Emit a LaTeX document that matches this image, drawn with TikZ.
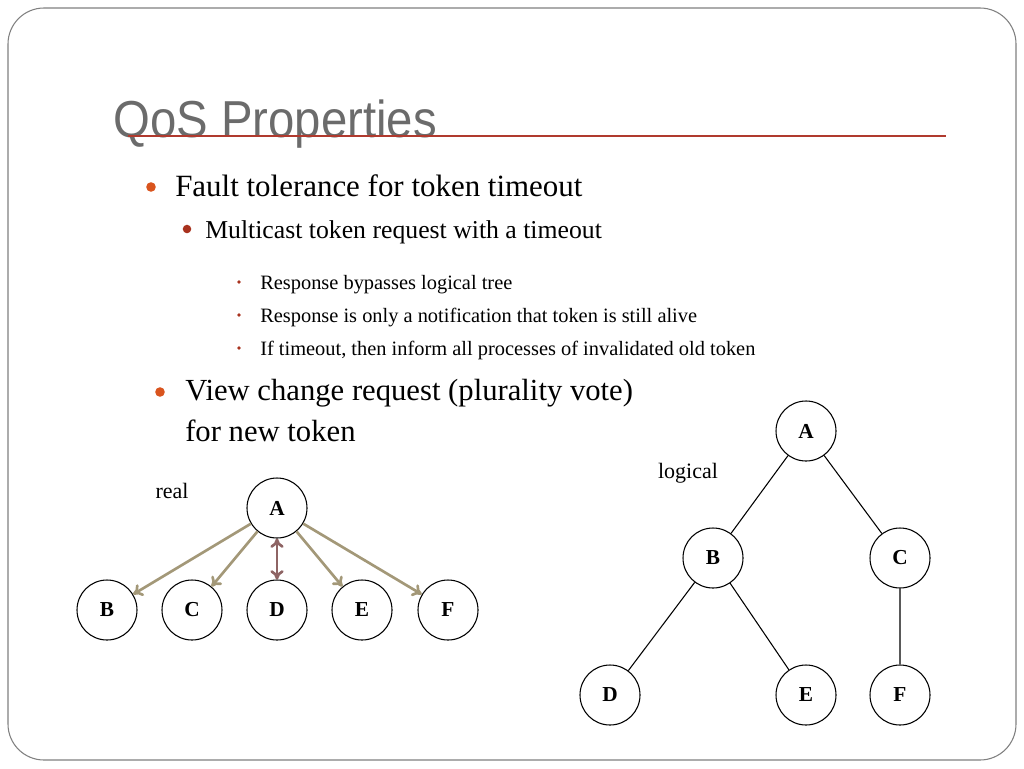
\documentclass[tikz,border=0pt]{standalone}
\usepackage{fontspec}
\setmainfont{Liberation Serif}
\newfontfamily\titlefont[FakeStretch=0.91]{Liberation Sans}
\definecolor{titlegrey}{HTML}{6B6B6B}
\definecolor{rulered}{HTML}{B03A2E}
\definecolor{dotorange}{HTML}{D9541E}
\definecolor{dotred}{HTML}{A8321E}
\definecolor{arrowtan}{HTML}{A39878}
\definecolor{arrowmauve}{HTML}{8E6464}
\tikzset{
    proc/.style={circle, draw, thick, minimum size=45pt, inner sep=0pt,
        font=\fontsize{16}{18}\selectfont\bfseries},
    send/.style={->, arrowtan, line width=2pt, >={To[length=7pt,width=10pt]}},
}
\usetikzlibrary{arrows.meta}
\begin{document}
\begin{tikzpicture}[x=0.75pt, y=-0.75pt]
    \useasboundingbox (0,0) rectangle (1024,768);
    % Slide frame
    \draw[gray, line width=0.8pt, rounded corners=27pt] (8,8) rectangle (1016,760);

    % Title and rule
    \node[anchor=base west, inner sep=0pt, titlegrey,
        font=\titlefont\fontsize{39}{44}\selectfont] (title) at (113,137) {QoS Properties};
    \draw[rulered, line width=0.9pt] (128,136) -- (946,136);

    % Bullets
    \fill[dotorange] (151,187) circle (3.6pt);
    \node[anchor=base west, inner sep=0pt, font=\fontsize{23.2}{26}\selectfont]
        (fault) at (175,196) {Fault tolerance for token timeout};
    \fill[dotred] (187,229) circle (3.2pt);
    \node[anchor=base west, inner sep=0pt, font=\fontsize{19.3}{22}\selectfont]
        (multi) at (205,238) {Multicast token request with a timeout};
    \foreach \y/\txt in {289/Response bypasses logical tree,
        322/Response is only a notification that token is still alive,
        355/{If timeout, then inform all processes of invalidated old token}} {
        \fill[dotred] (239,\y-7) circle (1.4pt);
        \node[anchor=base west, inner sep=0pt, font=\fontsize{15.3}{18}\selectfont]
            at (260,\y) {\txt};
    }
    \fill[dotorange] (160,392) circle (3.6pt);
    \node[anchor=base west, inner sep=0pt, font=\fontsize{23}{26}\selectfont]
        (view) at (185,400) {View change request (plurality vote)};
    \node[anchor=base west, inner sep=0pt, font=\fontsize{23}{26}\selectfont]
        (newtok) at (185,441) {for new token};

    % Real topology
    \node[font=\fontsize{16.5}{18}\selectfont] (real) at (172,491) {real};
    \node[proc] (rA) at (277,508) {A};
    \foreach \n/\x in {B/107, C/192, D/277, E/362, F/448}
        \node[proc] (r\n) at (\x,610) {\n};
    \foreach \n in {B, C, E, F}
        \draw[send] (rA) -- (r\n);
    \draw[send, <->, arrowmauve] (rA) -- (rD);

    % Logical tree
    \node[font=\fontsize{16.5}{18}\selectfont] (logical) at (688,473) {logical};
    \node[proc] (lA) at (806,431) {A};
    \node[proc] (lB) at (713,558) {B};
    \node[proc] (lC) at (900,558) {C};
    \node[proc] (lD) at (610,695) {D};
    \node[proc] (lE) at (806,695) {E};
    \node[proc] (lF) at (900,695) {F};
    \draw[line width=0.8pt] (lA) -- (lB) (lA) -- (lC) (lB) -- (lD) (lB) -- (lE) (lC) -- (lF);
\end{tikzpicture}
\end{document}
